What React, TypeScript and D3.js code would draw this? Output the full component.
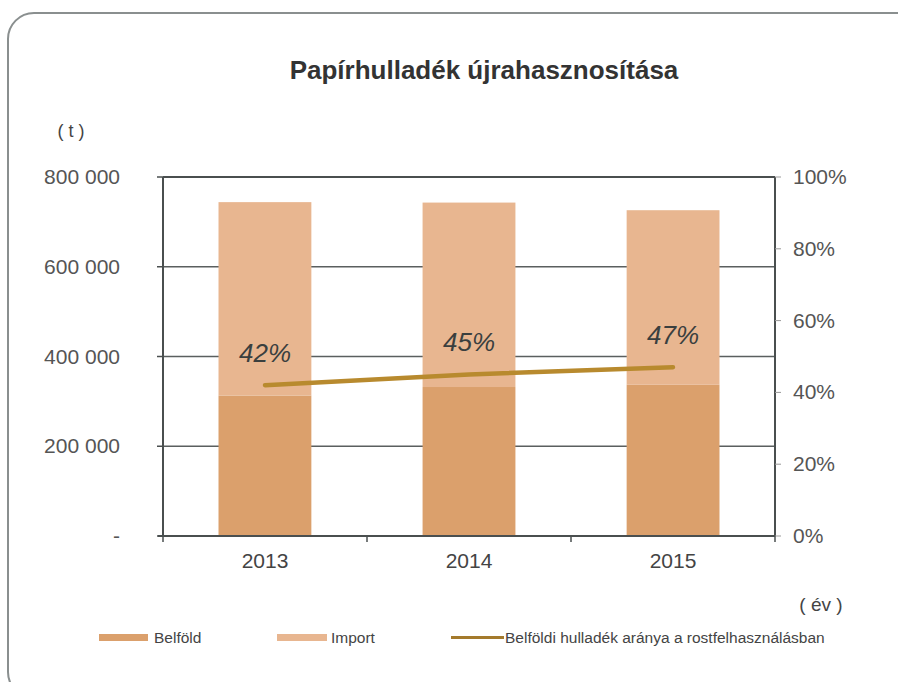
import React from 'react';
import * as d3 from 'd3';

const years = ['2013', '2014', '2015'];
const belfold = [313000, 332000, 337000];
const importVals = [431000, 411000, 389000];
const ratio = [0.42, 0.45, 0.47];
const ratioLabels = ['42%', '45%', '47%'];
const leftTicks = [0, 200000, 400000, 600000, 800000];
const rightTicks = [0, 0.2, 0.4, 0.6, 0.8, 1];

const W = 898;
const H = 682;
const m = { left: 163, right: 775, top: 177, bottom: 536 };
const font = 'Liberation Sans, Arial, sans-serif';

const App = () => {
    const x = d3.scaleBand().domain(years).range([m.left, m.right]).paddingInner(0.545).paddingOuter(0.272);
    const band = d3.scaleBand().domain(years).range([m.left, m.right]);
    const y = d3.scaleLinear().domain([0, 800000]).range([m.bottom, m.top]);
    const y2 = d3.scaleLinear().domain([0, 1]).range([m.bottom, m.top]);

    const stacked = d3.stack<any>().keys(['belfold', 'import'])(
        years.map((yr, i) => ({ year: yr, belfold: belfold[i], import: importVals[i] }))
    );
    const colors = ['#dba06c', '#e8b690'];

    const cx = (yr: string) => (band(yr) ?? 0) + band.bandwidth() / 2;
    const line = d3.line<number>()
        .x((_, i) => cx(years[i]))
        .y(d => y2(d));

    const fmt = (v: number) => v === 0 ? '-' : d3.format(',')(v).replace(/,/g, ' ');

    return (
        <svg width={W} height={H} style={{ position: 'absolute', left: 0, top: 0 }}>
            <rect x={0} y={0} width={W} height={H} fill="#fff" />
            <rect x={8} y={13} width={960} height={685} rx={26} fill="none" stroke="#8a8f8f" strokeWidth={2} />

            <text x={484} y={79} textAnchor="middle" fontFamily={font} fontWeight="bold" fontSize={26} fill="#333">
                Papírhulladék újrahasznosítása
            </text>
            <text x={71} y={137} textAnchor="middle" fontFamily={font} fontSize={18} fill="#444">( t )</text>

            {/* rácsvonalak */}
            {leftTicks.filter(t => t > 0 && t < 800000).map(t => (
                <line key={t} x1={m.left} x2={m.right} y1={y(t)} y2={y(t)} stroke="#5a5f5f" strokeWidth={1.5} />
            ))}

            {/* oszlopok */}
            {stacked.map((s, si) => (
                <g key={si} fill={colors[si]}>
                    {s.map((d, i) => (
                        <rect key={i} x={x(years[i])} width={x.bandwidth()} y={y(d[1])} height={y(d[0]) - y(d[1])} />
                    ))}
                </g>
            ))}

            {/* keret */}
            <line x1={m.left} x2={m.right} y1={m.top} y2={m.top} stroke="#4a4f4f" strokeWidth={2} />
            <line x1={m.left} x2={m.left} y1={m.top} y2={m.bottom} stroke="#4a4f4f" strokeWidth={2} />
            <line x1={m.right} x2={m.right} y1={m.top} y2={m.bottom} stroke="#4a4f4f" strokeWidth={2} />
            <line x1={m.left - 5} x2={m.right} y1={m.bottom} y2={m.bottom} stroke="#4a4f4f" strokeWidth={2} />

            {/* bal tengely */}
            {leftTicks.map(t => (
                <g key={t}>
                    <line x1={m.left - 6} x2={m.left} y1={y(t)} y2={y(t)} stroke="#4a4f4f" strokeWidth={1.5} />
                    <text x={120} y={y(t) + 7} textAnchor="end" fontFamily={font} fontSize={21} fill="#555">{fmt(t)}</text>
                </g>
            ))}

            {/* jobb tengely */}
            {rightTicks.map(t => (
                <g key={t}>
                    <line x1={m.right} x2={m.right + 6} y1={y2(t)} y2={y2(t)} stroke="#999" strokeWidth={1} />
                    <text x={793} y={y2(t) + 7} fontFamily={font} fontSize={21} fill="#555">{d3.format('.0%')(t)}</text>
                </g>
            ))}

            {/* x tengely */}
            {[...years.map(yr => band(yr) ?? 0), m.right].map((v, i) => (
                <line key={i} x1={v} x2={v} y1={m.bottom} y2={m.bottom + 6} stroke="#4a4f4f" strokeWidth={1.5} />
            ))}
            {years.map(yr => (
                <text key={yr} x={cx(yr)} y={568} textAnchor="middle" fontFamily={font} fontSize={21} fill="#444">{yr}</text>
            ))}
            <text x={821} y={611} textAnchor="middle" fontFamily={font} fontSize={19} fill="#444">( év )</text>

            {/* arány vonal */}
            <path d={line(ratio) ?? ''} fill="none" stroke="#b88a2e" strokeWidth={4.5} strokeLinecap="round" />
            {ratio.map((r, i) => (
                <text key={i} x={cx(years[i])} y={y2(r) - 23} textAnchor="middle" fontFamily={font} fontStyle="italic"
                    fontSize={26} fill="#3a3f3f">{ratioLabels[i]}</text>
            ))}

            {/* jelmagyarázat */}
            <g fontFamily={font} fontSize={15.5} fill="#444">
                <rect x={99} y={634} width={49} height={7} fill={colors[0]} />
                <text x={154} y={643}>Belföld</text>
                <rect x={277} y={634} width={50} height={7} fill={colors[1]} />
                <text x={331} y={643}>Import</text>
                <line x1={451} x2={504} y1={637.5} y2={637.5} stroke="#a47a2c" strokeWidth={3} />
                <text x={505} y={643}>Belföldi hulladék aránya a rostfelhasználásban</text>
            </g>
        </svg>
    );
};

export default App;
